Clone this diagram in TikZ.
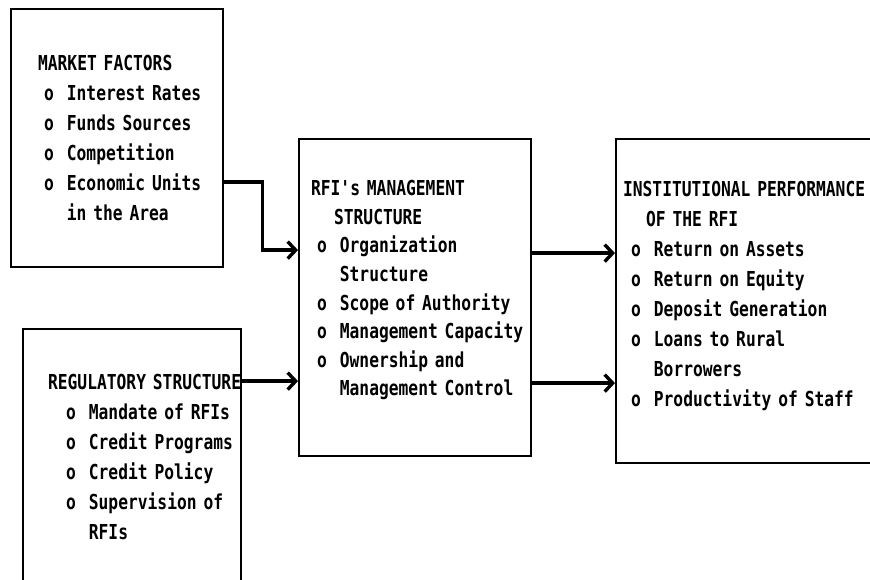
\documentclass[tikz,border=0pt]{standalone}
\usepackage{fontspec}
\setmonofont{DejaVu Sans Mono}[FakeStretch=0.79]
\usetikzlibrary{arrows.meta, positioning, calc}

% one line of a box: heading, bullet item, continued item
\newcommand{\hd}[2][0pt]{\mbox{\hspace{#1}#2}}
\newcommand{\itm}[1]{\mbox{o\hspace{13pt}#1}}
\newcommand{\cnt}[1]{\mbox{\hspace{22.8pt}#1}}

\begin{document}
\begin{tikzpicture}[
    x=1pt, y=-1pt,
    font=\ttfamily\bfseries\fontsize{20.6}{30}\selectfont,
    box/.style={draw, line width=2.2pt, align=left, inner ysep=0pt, anchor=north west},
    arr/.style={-{Straight Barb[length=8pt,width=17pt]}, line width=3.4pt}
]
    \useasboundingbox (0,0) rectangle (870,580);
    \clip (0,0) rectangle (870,580);
    \node[box, text width=146pt, inner xsep=33pt, minimum height=258pt] (market) at (10,8) {
        \hd[-6pt]{MARKET FACTORS}\\
        \itm{Interest Rates}\\
        \itm{Funds Sources}\\
        \itm{Competition}\\
        \itm{Economic Units}\\
        \cnt{in the Area}};
    \node[box, text width=132pt, inner xsep=43pt, minimum height=256pt] (reg) at (22,328) {
        \hd[-18pt]{REGULATORY STRUCTURE}\\
        \itm{Mandate of RFIs}\\
        \itm{Credit Programs}\\
        \itm{Credit Policy}\\
        \itm{Supervision of}\\
        \cnt{RFIs}};
    \node[box, text width=196pt, inner xsep=18pt, minimum height=317pt,
          font=\ttfamily\bfseries\fontsize{20.6}{28.6}\selectfont] (mgmt) at (298,138) {
        \hd[-6pt]{RFI's MANAGEMENT}\\
        \hd[17pt]{STRUCTURE}\\
        \itm{Organization}\\
        \cnt{Structure}\\
        \itm{Scope of Authority}\\
        \itm{Management Capacity}\\
        \itm{Ownership and}\\
        \cnt{Management Control}\rule[-19pt]{0pt}{19pt}};
    \node[box, text width=240pt, inner xsep=15pt, minimum height=324pt] (perf) at (615,138) {
        \hd[-8pt]{INSTITUTIONAL PERFORMANCE}\\
        \hd[15pt]{OF THE RFI}\\
        \itm{Return on Assets}\\
        \itm{Return on Equity}\\
        \itm{Deposit Generation}\\
        \itm{Loans to Rural}\\
        \cnt{Borrowers}\\
        \itm{Productivity of Staff}\rule[-14pt]{0pt}{14pt}};
    % connectors
    \coordinate (inreg) at ([yshift=-83.5pt]mgmt.west);
    \coordinate (outa) at ([yshift=44.5pt]mgmt.east);
    \coordinate (outb) at ([yshift=-85.5pt]mgmt.east);
    \draw[arr] ([yshift=-44pt]market.east) -- ++(38,0) |- ([yshift=47.5pt]mgmt.west);
    \draw[arr] (reg.east |- inreg) -- (inreg);
    \draw[arr] (outa) -- (outa -| perf.west);
    \draw[arr] (outb) -- (outb -| perf.west);
\end{tikzpicture}
\end{document}
